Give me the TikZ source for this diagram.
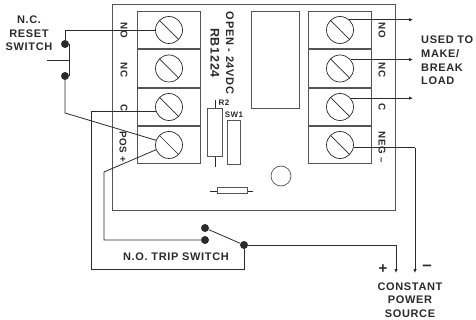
\documentclass[tikz,border=0pt]{standalone}
\usepackage{fontspec}
\setmainfont[LetterSpace=6]{Liberation Sans}
\usetikzlibrary{arrows.meta}
\definecolor{inkgray}{HTML}{2B2B2B}
\tikzset{
  wire/.style={draw=inkgray,line width=0.8pt},
  tipwire/.style={wire,-{Latex[length=4pt,width=3.5pt]}},
  part/.style={rectangle,draw=inkgray!80,line width=1pt,inner sep=0pt},
  block/.style={part,minimum width=63pt,minimum height=37.5pt},
  screw/.style={circle,draw=inkgray,line width=0.7pt,fill=white,inner sep=0pt,minimum size=27pt,
    path picture={\draw[inkgray,line width=0.7pt] (path picture bounding box.north west) -- (path picture bounding box.south east);}},
  dot/.style={circle,fill=inkgray,inner sep=0pt,minimum size=8pt},
  txt/.style={text=inkgray,inner sep=0pt,font=\fontsize{11}{13.6}\selectfont\bfseries,align=center},
  vtxt/.style={txt,rotate=-90,font=\fontsize{9.8}{12}\selectfont\bfseries},
  tiny/.style={txt,font=\fontsize{8}{9}\selectfont\bfseries}
}
\begin{document}
\begin{tikzpicture}[x=1pt,y=-1pt]
    \useasboundingbox (0,0) rectangle (476,320);

    %––––– board –––––
    \node (board) at (253.5,107.7) [part,minimum width=283pt,minimum height=206.5pt] {};
    \node (relay) at (275,59.8) [part,minimum width=48pt,minimum height=96.5pt] {};
    \node (r2) at (215,133) [part,minimum width=14.5pt,minimum height=48pt] {};
    \node (sw1) at (233.5,143) [part,minimum width=13pt,minimum height=44pt] {};
    \node (led) at (281,176) [circle,draw=inkgray!80,line width=0.7pt,inner sep=0pt,minimum size=20pt] {};
    \node (res) at (232,191) [part,minimum width=30pt,minimum height=6pt] {};
    \coordinate (r2a) at (215,100);
    \coordinate (r2b) at (215,167);
    \coordinate (resa) at (210,191);
    \coordinate (resb) at (253,191);
    \draw[wire] (r2a) -- (r2);
    \draw[wire] (r2) -- (r2b);
    \draw[wire] (resa) -- (res);
    \draw[wire] (res) -- (resb);

    %––––– left terminals –––––
    \node (bl1) at (168.5,30) [block] {};
    \node (bl2) at (168.5,68.5) [block] {};
    \node (bl3) at (168.5,107) [block] {};
    \node (bl4) at (168.5,145) [block] {};
    \node (sl1) at (169,30) [screw] {};
    \node (sl2) at (169,68.5) [screw] {};
    \node (sl3) at (169,107) [screw] {};
    \node (sl4) at (169,145) [screw] {};

    %––––– right terminals –––––
    \node (br1) at (340,30) [block] {};
    \node (br2) at (340,68.5) [block] {};
    \node (br3) at (340,107) [block] {};
    \node (br4) at (340,145) [block] {};
    \node (sr1) at (340,30) [screw] {};
    \node (sr2) at (340,68.5) [screw] {};
    \node (sr3) at (340,107) [screw] {};
    \node (sr4) at (340,145) [screw] {};

    %––––– board labels –––––
    \node (lno) at (124,30) [vtxt] {NO};
    \node (lnc) at (124,70) [vtxt] {NC};
    \node (lc) at (124,108) [vtxt] {C};
    \node (lpos) at (123,147) [vtxt] {POS +};
    \node (rno) at (382,30) [vtxt] {NO};
    \node (rnc) at (382,70) [vtxt] {NC};
    \node (rc) at (382,107) [vtxt] {C};
    \node (rneg) at (382,147) [vtxt] {NEG –};
    \node (open) at (230,53) [vtxt,font=\fontsize{11}{12}\selectfont\bfseries] {OPEN - 24VDC};
    \node (model) at (215,53) [vtxt,font=\fontsize{12.5}{13}\selectfont\bfseries] {RB1224};
    \node (lr2) at (224,103) [tiny] {R2};
    \node (lsw1) at (234,115) [tiny] {SW1};

    %––––– reset switch –––––
    \node (lreset) at (29,33.5) [txt] {N.C.\\RESET\\SWITCH};
    \node (d1) at (65,44) [dot] {};
    \node (d2) at (65,76) [dot] {};
    \coordinate (n1) at (65,30);
    \coordinate (n2) at (65,113);
    \coordinate (bar1) at (69,44);
    \coordinate (bar2) at (69,76);
    \coordinate (lever) at (47,60.5);
    \draw[wire] (sl1.west) -- (n1) -- (d1);
    \draw[wire] (d2) -- (n2) -- (sl4.160);
    \draw[wire] (bar1) -- (bar2);
    \draw[wire] (lever) -- (lever -| bar1);

    %––––– trip switch –––––
    \node (ltrip) at (176,257) [txt] {N.O. TRIP SWITCH};
    \node (d3) at (205,228) [dot] {};
    \node (d4) at (205,240) [dot] {};
    \node (d5) at (244,245) [dot] {};
    \coordinate (n3) at (91,107);
    \coordinate (n4) at (91,269);
    \coordinate (n5) at (244,269);
    \coordinate (n6) at (104,172);
    \coordinate (n7) at (104,240);
    \draw[wire] (sl3.200) -- (sl3.200 -| n3) -- (n4) -- (n5) -- (d5);
    \draw[wire] (sl4.200) -- (n6) -- (n7) -- (d4);
    \draw[wire] (d3) -- (d5);

    %––––– load –––––
    \node (lload) at (421,60.5) [txt,anchor=west,align=left] {USED TO\\MAKE/\\BREAK\\LOAD};
    \coordinate (o1) at (413,20);
    \coordinate (o2) at (413,60);
    \coordinate (o3) at (413,98.5);
    \draw[tipwire] (sr1.48) -- (sr1.48 -| o1);
    \draw[tipwire] (sr2.40) -- (sr2.40 -| o2);
    \draw[tipwire] (sr3.40) -- (sr3.40 -| o3);

    %––––– power source –––––
    \node (lsource) at (410,300) [txt] {CONSTANT\\POWER\\SOURCE};
    \node (lplus) at (383,269) [txt,font=\fontsize{15}{15}\selectfont\bfseries] {+};
    \node (lminus) at (427,268) [txt,font=\fontsize{17}{17}\selectfont\bfseries] {–};
    \coordinate (p1) at (396,245);
    \coordinate (p2) at (396,273);
    \coordinate (p3) at (415,148);
    \coordinate (p4) at (415,273);
    \draw[wire] (d5) -- (p1);
    \draw[tipwire] (p1) -- (p2);
    \draw[wire] (sr4.-12) -- (sr4.-12 -| p3);
    \draw[tipwire] (sr4.-12 -| p3) -- (p4);
  \end{tikzpicture}
\end{document}
